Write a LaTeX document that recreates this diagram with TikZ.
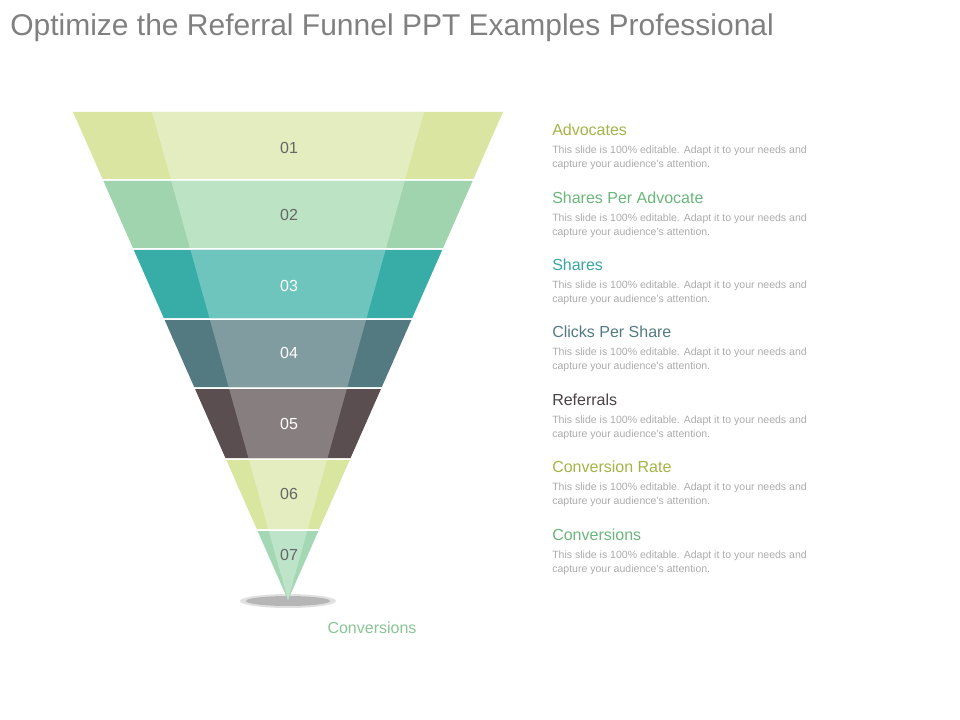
\documentclass[tikz,border=0pt]{standalone}
\usepackage{fontspec}
\setmainfont{Liberation Sans}
\definecolor{o1}{HTML}{D9E5A0}\definecolor{i1}{HTML}{E4EDBF}
\definecolor{o2}{HTML}{9FD4AE}\definecolor{i2}{HTML}{BDE3C5}
\definecolor{o3}{HTML}{38ACA6}\definecolor{i3}{HTML}{6DC5BE}
\definecolor{o4}{HTML}{527A80}\definecolor{i4}{HTML}{819CA1}
\definecolor{o5}{HTML}{5A4E50}\definecolor{i5}{HTML}{877E7F}
\definecolor{o6}{HTML}{D9E6A0}\definecolor{i6}{HTML}{E4EDBF}
\definecolor{o7}{HTML}{A4D7B4}\definecolor{i7}{HTML}{BDE3C9}
\definecolor{t1}{HTML}{A2B545}\definecolor{t2}{HTML}{6AB67B}
\definecolor{t3}{HTML}{38A6A0}\definecolor{t4}{HTML}{527A80}
\definecolor{t5}{HTML}{4A4244}\definecolor{t6}{HTML}{A2B545}
\definecolor{t7}{HTML}{6AB67B}
\definecolor{desc}{HTML}{ABABAB}
\tikzset{
 num/.style={font=\fontsize{12}{14}\selectfont,text=#1},
 head/.style={anchor=west,font=\fontsize{12}{14}\selectfont,text=#1,inner sep=0},
 body/.style={anchor=north west,font=\fontsize{7.9}{10.5}\selectfont,text=desc,inner sep=0,align=left}
}
\begin{document}
\begin{tikzpicture}[x=0.75pt,y=-0.75pt]
\useasboundingbox (0,0) rectangle (960,720);
\node[anchor=west,inner sep=0,font=\fontsize{22.5}{26}\selectfont,text=black!50] (title) at (10,28) {Optimize the Referral Funnel PPT Examples Professional};
\fill[black!45,opacity=0.6] (288,601) ellipse (42 and 5);
\fill[black!30,opacity=0.4] (288,601) ellipse (48 and 7);
\foreach \i/\a/\b/\ly/\lc in {1/112/179/148/black!60,2/181/248/215/black!60,3/250/318/286/white,4/320/387/353/white,5/389/458/424/white,6/460/529/494/black!60,7/531/600/555/black!60}{
 \pgfmathsetmacro\wa{0.44057*(600-\a)}
 \pgfmathsetmacro\wb{0.44057*(600-\b)}
 \pgfmathsetmacro\va{0.27869*(600-\a)}
 \pgfmathsetmacro\vb{0.27869*(600-\b)}
 \fill[o\i] (288-\wa,\a) -- (288+\wa,\a) -- (288+\wb,\b) -- (288-\wb,\b) -- cycle;
 \fill[i\i] (288-\va,\a) -- (288+\va,\a) -- (288+\vb,\b) -- (288-\vb,\b) -- cycle;
 \node[num=\lc] (n\i) at (289,\ly) {0\i};
}
\node[font=\fontsize{12}{14}\selectfont,text=t2!80] (conv) at (372,628) {Conversions};
\foreach \i/\y/\t in {1/130/Advocates,2/198/Shares Per Advocate,3/265/Shares,4/332/Clicks Per Share,5/400/Referrals,6/467/Conversion Rate,7/535/Conversions}{
 \node[head=t\i] (h\i) at (552,\y) {\t};
 \node[body] (b\i) at (552,\y+16) {This slide is 100\% editable. Adapt it to your needs and\\capture your audience's attention.};
}
\end{tikzpicture}
\end{document}
